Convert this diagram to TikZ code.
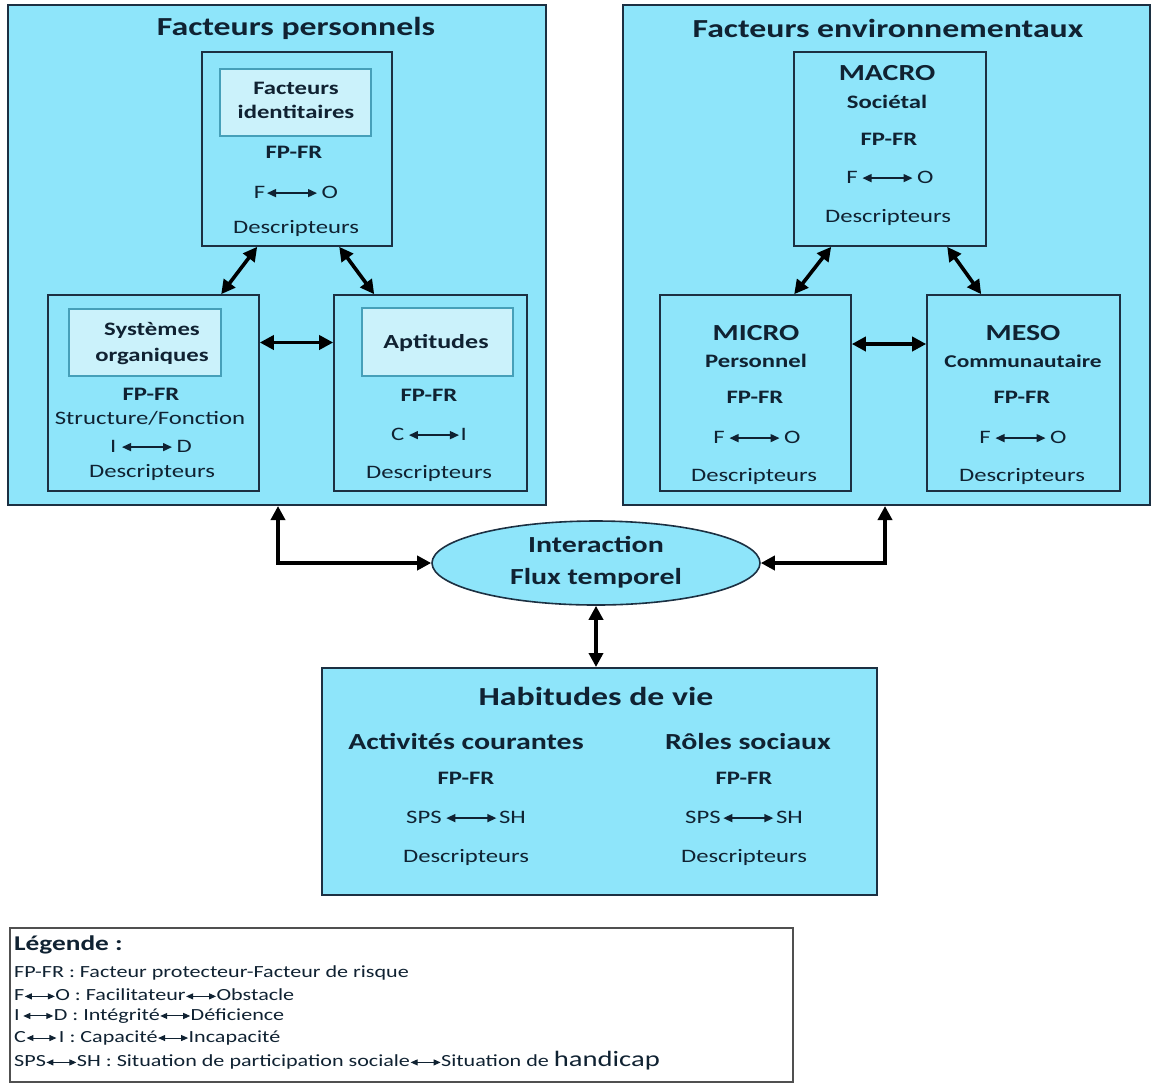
\documentclass[tikz,border=0pt]{standalone}
\usepackage{fontspec}
\setmainfont{Carlito}[FakeStretch=1.3]
\usetikzlibrary{arrows.meta,shapes.geometric}
\definecolor{cyanfill}{RGB}{142,229,250}
\definecolor{lightfill}{RGB}{203,242,251}
\definecolor{darkline}{RGB}{28,48,66}
\definecolor{textcol}{RGB}{16,34,50}
\definecolor{innerline}{RGB}{70,160,185}
\definecolor{legline}{RGB}{80,80,80}
\newcommand\dar{\tikz[baseline=-0.55ex]\draw[color=textcol,line width=1.4pt,{Triangle[length=9pt,width=8pt]}-{Triangle[length=9pt,width=8pt]}] (0pt,0pt)--(50pt,0pt);}
\newcommand\ldar{\tikz[baseline=-0.55ex]\draw[color=textcol,line width=1pt,{Triangle[length=7pt,width=6pt]}-{Triangle[length=7pt,width=6pt]}] (0pt,0pt)--(30pt,0pt);}
\newcommand\fsz[1]{\fontsize{#1}{#1}\selectfont}
\tikzset{
  bigbox/.style={draw=darkline,line width=2pt,fill=cyanfill,inner sep=0,rectangle},
  subbox/.style={draw=darkline,line width=1.6pt,fill=cyanfill,inner sep=0,rectangle},
  inbox/.style={draw=innerline,line width=1.2pt,fill=lightfill,inner sep=0,rectangle},
  lbl/.style={inner sep=0,text=textcol,anchor=center},
  leglbl/.style={inner sep=0,text=textcol,anchor=west},
  fat/.style={line width=3.6pt,draw=black,{Triangle[length=14pt,width=14pt]}-{Triangle[length=14pt,width=14pt]}}
}
\begin{document}
\begin{tikzpicture}[x=1pt,y=-1pt]
\path[use as bounding box,fill=white] (0,0) rectangle (1155,1085);
% big boxes
\node[bigbox,minimum width=538pt,minimum height=500pt] (bigL) at (277,255) {};
\node[bigbox,minimum width=527pt,minimum height=500pt] (bigR) at (886.5,255) {};
\node[lbl,font=\fsz{26}\bfseries] (tL) at (296,28) {Facteurs personnels};
\node[lbl,font=\fsz{26}\bfseries] (tR) at (888,28) {Facteurs environnementaux};
% personal factor boxes
\node[subbox,minimum width=190pt,minimum height=194pt] (FI) at (297,149) {};
\node[inbox,minimum width=151pt,minimum height=67pt] (FIi) at (295.5,102.5) {};
\node[lbl,font=\fsz{19}\bfseries] (FIa) at (296,88) {Facteurs};
\node[lbl,font=\fsz{19}\bfseries] (FIb) at (296,112) {identitaires};
\node[lbl,font=\fsz{19}\bfseries] (FIc) at (294,152) {FP-FR};
\node[lbl,font=\fsz{19}] (FId) at (296,192) {F\hspace{1pt}\dar\hspace{4pt}O};
\node[lbl,font=\fsz{19}] (FIe) at (296,228) {Descripteurs};
\node[subbox,minimum width=211pt,minimum height=196pt] (SO) at (153.5,393) {};
\node[inbox,minimum width=152pt,minimum height=67pt] (SOi) at (145,342.5) {};
\node[lbl,font=\fsz{19}\bfseries] (SOa) at (152,330) {Systèmes};
\node[lbl,font=\fsz{19}\bfseries] (SOb) at (152,356) {organiques};
\node[lbl,font=\fsz{19}\bfseries] (SOc) at (151,394) {FP-FR};
\node[lbl,font=\fsz{19}] (SOd) at (150,418) {Structure/Fonction};
\node[lbl,font=\fsz{19}] (SOe) at (151,446) {I\hspace{5pt}\dar\hspace{4pt}D};
\node[lbl,font=\fsz{19}] (SOf) at (152,472) {Descripteurs};
\node[subbox,minimum width=193pt,minimum height=196pt] (AP) at (430.5,393) {};
\node[inbox,minimum width=151pt,minimum height=68pt] (APi) at (437.5,342) {};
\node[lbl,font=\fsz{20}\bfseries] (APa) at (436,343) {Aptitudes};
\node[lbl,font=\fsz{19}\bfseries] (APc) at (429,395) {FP-FR};
\node[lbl,font=\fsz{19}] (APd) at (429,434) {C\hspace{4pt}\dar\hspace{1pt}I};
\node[lbl,font=\fsz{19}] (APe) at (429,473) {Descripteurs};
% environmental boxes
\node[subbox,minimum width=192pt,minimum height=194pt] (MA) at (890,149) {};
\node[lbl,font=\fsz{23}\bfseries] (MAa) at (887,73) {MACRO};
\node[lbl,font=\fsz{19}\bfseries] (MAb) at (887,102) {Sociétal};
\node[lbl,font=\fsz{19}\bfseries] (MAc) at (889,139) {FP-FR};
\node[lbl,font=\fsz{19}] (MAd) at (890,177) {F\hspace{4pt}\dar\hspace{4pt}O};
\node[lbl,font=\fsz{19}] (MAe) at (888,217) {Descripteurs};
\node[subbox,minimum width=191pt,minimum height=196pt] (MI) at (755.5,393) {};
\node[lbl,font=\fsz{23}\bfseries] (MIa) at (756,333) {MICRO};
\node[lbl,font=\fsz{19}\bfseries] (MIb) at (756,361) {Personnel};
\node[lbl,font=\fsz{19}\bfseries] (MIc) at (755,397) {FP-FR};
\node[lbl,font=\fsz{19}] (MId) at (757,437) {F\hspace{4pt}\dar\hspace{4pt}O};
\node[lbl,font=\fsz{19}] (MIe) at (754,476) {Descripteurs};
\node[subbox,minimum width=193pt,minimum height=196pt] (ME) at (1023.5,393) {};
\node[lbl,font=\fsz{23}\bfseries] (MEa) at (1023,333) {MESO};
\node[lbl,font=\fsz{18}\bfseries] (MEb) at (1023,361) {Communautaire};
\node[lbl,font=\fsz{19}\bfseries] (MEc) at (1022,397) {FP-FR};
\node[lbl,font=\fsz{19}] (MEd) at (1023,437) {F\hspace{4pt}\dar\hspace{4pt}O};
\node[lbl,font=\fsz{19}] (MEe) at (1022,476) {Descripteurs};
% interaction ellipse
\node[ellipse,draw=darkline,line width=1.6pt,fill=cyanfill,inner sep=0,minimum width=328pt,minimum height=84pt] (ell) at (596,563) {};
\node[lbl,font=\fsz{23}\bfseries] (ella) at (596,544) {Interaction};
\node[lbl,font=\fsz{23}\bfseries] (ellb) at (596,578) {Flux temporel};
% habitudes
\node[subbox,line width=2pt,minimum width=555pt,minimum height=227pt] (HAB) at (599.5,781.5) {};
\node[lbl,font=\fsz{26}\bfseries] (HABt) at (596,696) {Habitudes de vie};
\node[lbl,font=\fsz{23}\bfseries] (HABa) at (466,741) {Activités courantes};
\node[lbl,font=\fsz{23}\bfseries] (HABb) at (748,741) {Rôles sociaux};
\node[lbl,font=\fsz{19}\bfseries] (HABc) at (466,778) {FP-FR};
\node[lbl,font=\fsz{19}\bfseries] (HABd) at (744,778) {FP-FR};
\node[lbl,font=\fsz{19}] (HABe) at (466,817) {SPS\hspace{4pt}\dar\hspace{2pt}SH};
\node[lbl,font=\fsz{19}] (HABf) at (744,817) {SPS\hspace{2pt}\dar\hspace{2pt}SH};
\node[lbl,font=\fsz{19}] (HABg) at (466,857) {Descripteurs};
\node[lbl,font=\fsz{19}] (HABh) at (744,857) {Descripteurs};
% legend
\node[draw=legline,line width=1.3pt,fill=white,inner sep=0,minimum width=783pt,minimum height=154pt] (LEG) at (401.5,1005) {};
\node[leglbl,font=\fsz{21}\bfseries] (L0) at (14,945) {Légende :};
\node[leglbl,font=\fsz{17}] (L1) at (14,973) {FP-FR : Facteur protecteur-Facteur de risque};
\node[leglbl,font=\fsz{17}] (L2) at (14,995) {F\ldar O : Facilitateur\ldar Obstacle};
\node[leglbl,font=\fsz{17}] (L3) at (14,1016) {I\hspace{3pt}\ldar D : Intégrité\ldar Déficience};
\node[leglbl,font=\fsz{17}] (L4) at (14,1038) {C\ldar\hspace{2pt}I : Capacité\ldar Incapacité};
\node[leglbl,font=\fsz{17}] (L5) at (14,1061) {SPS\ldar SH : Situation de participation sociale\ldar Situation de {\fsz{22}handicap}};
% connectors
\draw[fat] ([xshift=56pt]FI.south west) -- ([xshift=174pt]SO.north west);
\draw[fat] ([xshift=138pt]FI.south west) -- ([xshift=41pt]AP.north west);
\draw[fat] (SOi.east -| SO.east) -- (SOi.east -| AP.west);
\draw[fat] ([xshift=38pt]MA.south west) -- ([xshift=135pt]MI.north west);
\draw[fat] ([xshift=154pt]MA.south west) -- ([xshift=55pt]ME.north west);
\draw[fat] ([yshift=49pt]MI.east) -- ([yshift=49pt]ME.west);
\draw[fat] ([xshift=271pt]bigL.south west) |- (ell.west);
\draw[fat] ([xshift=263pt]bigR.south west) |- (ell.east);
\draw[fat] (ell.south) -- (ell.south |- HAB.north);
\end{tikzpicture}
\end{document}
